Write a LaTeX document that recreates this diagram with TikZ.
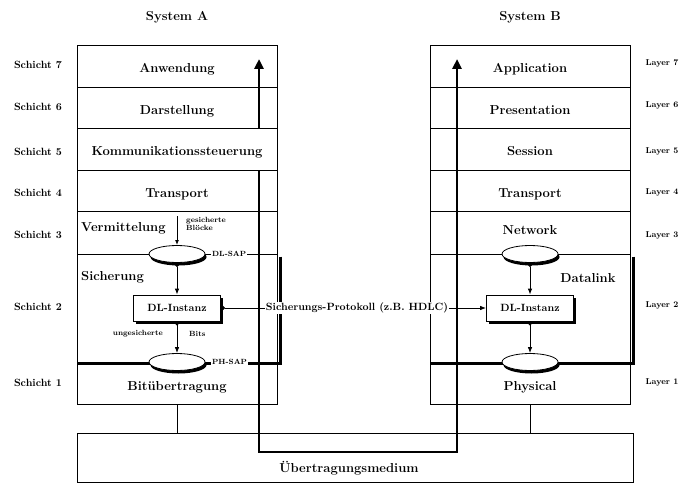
\documentclass[tikz,border=0pt]{standalone}
\usepackage{tikz}
\usetikzlibrary{shapes.geometric,arrows.meta,shadows}

\begin{document}
\begin{tikzpicture}[x=1pt,y=-1pt,
	layer/.style={draw,thick,rectangle,minimum width=200pt,inner sep=0pt,text height=14pt,text depth=0pt,font=\fontsize{13}{15}\selectfont\bfseries},
	lbl/.style={inner sep=1pt,font=\fontsize{13}{15}\selectfont\bfseries},
	side/.style={inner sep=1pt,font=\fontsize{10.5}{12}\selectfont\bfseries},
	sideb/.style={inner sep=1pt,font=\fontsize{8.5}{10}\selectfont\bfseries},
	note/.style={inner sep=1pt,font=\fontsize{7.5}{8}\selectfont\bfseries},
	sap/.style={ellipse,draw,thick,fill=white,minimum width=56pt,minimum height=17pt,inner sep=0pt,drop shadow={shadow xshift=1.5pt,shadow yshift=-3pt,fill=black,opacity=1}},
	inst/.style={draw,thick,fill=white,minimum width=87pt,minimum height=26pt,inner sep=0pt,font=\fontsize{10.5}{12}\selectfont\bfseries,drop shadow={shadow xshift=2.5pt,shadow yshift=-2.5pt,fill=black,opacity=1}},
	flow/.style={line width=2.5pt},
	conn/.style={thick,{Circle[length=4pt]}-{Latex[length=6pt]}},
	edgebar/.style={line width=3pt}]
		\useasboundingbox (0,0) rectangle (700,486);
		
		%titles
		\node[lbl] (sysA) at (177,17) {System A};
		\node[lbl] (sysB) at (530,17) {System B};
		
		%layers system A
		\node[layer,minimum height=42pt] (a7) at (177,66) {Anwendung};
		\node[layer,minimum height=41pt] (a6) at (177,107.5) {Darstellung};
		\node[layer,minimum height=42pt] (a5) at (177,149) {Kommunikationssteuerung};
		\node[layer,minimum height=41pt] (a4) at (177,190.5) {Transport};
		\node[layer,minimum height=43pt] (a3) at (177,232.5) {};
		\node[layer,minimum height=109pt] (a2) at (177,308.5) {};
		\node[layer,minimum height=41pt] (a1) at (177,383.5) {Bitübertragung};
		
		%layers system B
		\node[layer,minimum height=42pt] (b7) at (530,66) {Application};
		\node[layer,minimum height=41pt] (b6) at (530,107.5) {Presentation};
		\node[layer,minimum height=42pt] (b5) at (530,149) {Session};
		\node[layer,minimum height=41pt] (b4) at (530,190.5) {Transport};
		\node[layer,minimum height=43pt] (b3) at (530,232.5) {};
		\node[layer,minimum height=109pt] (b2) at (530,308.5) {};
		\node[layer,minimum height=41pt] (b1) at (530,383.5) {Physical};
		
		%medium
		\node[draw,thick,minimum width=556pt,minimum height=49pt,inner sep=0pt] (med) at (355,457.5) {};
		\node[lbl] (medtxt) at (349,468) {Übertragungsmedium};
		\draw[thick] (a1.south) -- (a1.south |- med.north);
		\draw[thick] (b1.south) -- (b1.south |- med.north);
		
		%layer numbers
		\node[side] (s7) at (38,65) {Schicht 7};
		\node[side] (s6) at (38,107) {Schicht 6};
		\node[side] (s5) at (38,152) {Schicht 5};
		\node[side] (s4) at (38,193) {Schicht 4};
		\node[side] (s3) at (38,235) {Schicht 3};
		\node[side] (s2) at (38,307) {Schicht 2};
		\node[side] (s1) at (38,383) {Schicht 1};
		\node[sideb] (l7) at (662,63) {Layer 7};
		\node[sideb] (l6) at (662,105) {Layer 6};
		\node[sideb] (l5) at (662,151) {Layer 5};
		\node[sideb] (l4) at (662,192) {Layer 4};
		\node[sideb] (l3) at (662,235) {Layer 3};
		\node[sideb] (l2) at (662,305) {Layer 2};
		\node[sideb] (l1) at (662,382) {Layer 1};
		
		%data path
		\coordinate (topA) at (259,59);
		\coordinate (botA) at (259,452);
		\coordinate (botB) at (457,452);
		\coordinate (topB) at (457,59);
		\draw[flow,-{Triangle[length=10pt,width=9pt]}] (a6.south -| topA) -- (topA);
		\draw[flow,-{Triangle[length=10pt,width=9pt]}] (a5.south -| topA) -- (botA) -- (botB) -- (topB);
		
		%datalink borders
		\draw[edgebar] ([shift={(3pt,-3pt)}]a2.north east) -- ([xshift=3pt]a2.south east) -- (a2.south west);
		\draw[edgebar] ([shift={(3pt,-3pt)}]b2.north east) -- ([xshift=3pt]b2.south east) -- (b2.south west);
		
		%service access points
		\node[sap] (sapA1) at (177,254) {};
		\node[sap] (sapA2) at (177,362) {};
		\node[sap] (sapB1) at (530,254) {};
		\node[sap] (sapB2) at (530,362) {};
		
		%instances
		\node[inst] (dlA) at (177,308) {DL-Instanz};
		\node[inst] (dlB) at (530,308) {DL-Instanz};
		
		%labels
		\node[lbl,anchor=west] (verm) at (80,228) {Vermittelung};
		\node[note,align=left,anchor=west] (gesB) at (185,224) {gesicherte\\Blöcke};
		\node[lbl,anchor=west] (sichA) at (80,277) {Sicherung};
		\node[note,fill=white,anchor=west] (dlsap) at (211,254) {DL-SAP};
		\node[note,fill=white,anchor=west] (phsap) at (211,362) {PH-SAP};
		\node[note,anchor=east] (unges) at (164,334) {ungesicherte};
		\node[note,anchor=west] (bits) at (188,334) {Bits};
		\node[lbl] (net) at (530,230) {Network};
		\node[lbl] (dlink) at (588,278) {Datalink};
		\node[side,fill=white] (prot) at (357,308) {Sicherungs-Protokoll (z.B. HDLC)};
		
		%connections
		\coordinate (inA) at (177,216);
		\draw[thick,-{Latex[length=5pt]}] (inA) -- (sapA1.north);
		\draw[conn] (sapA1.south) -- (dlA.north);
		\draw[conn] (dlA.south) -- (sapA2.north);
		\draw[conn] (sapB1.south) -- (dlB.north);
		\draw[conn] (dlB.south) -- (sapB2.north);
		\draw[thick,{Circle[length=4pt]}-] (dlA.east) -- (prot.west);
		\draw[thick,-{Latex[length=6pt]}] (prot.east) -- (dlB.west);
		
\end{tikzpicture}
\end{document}
